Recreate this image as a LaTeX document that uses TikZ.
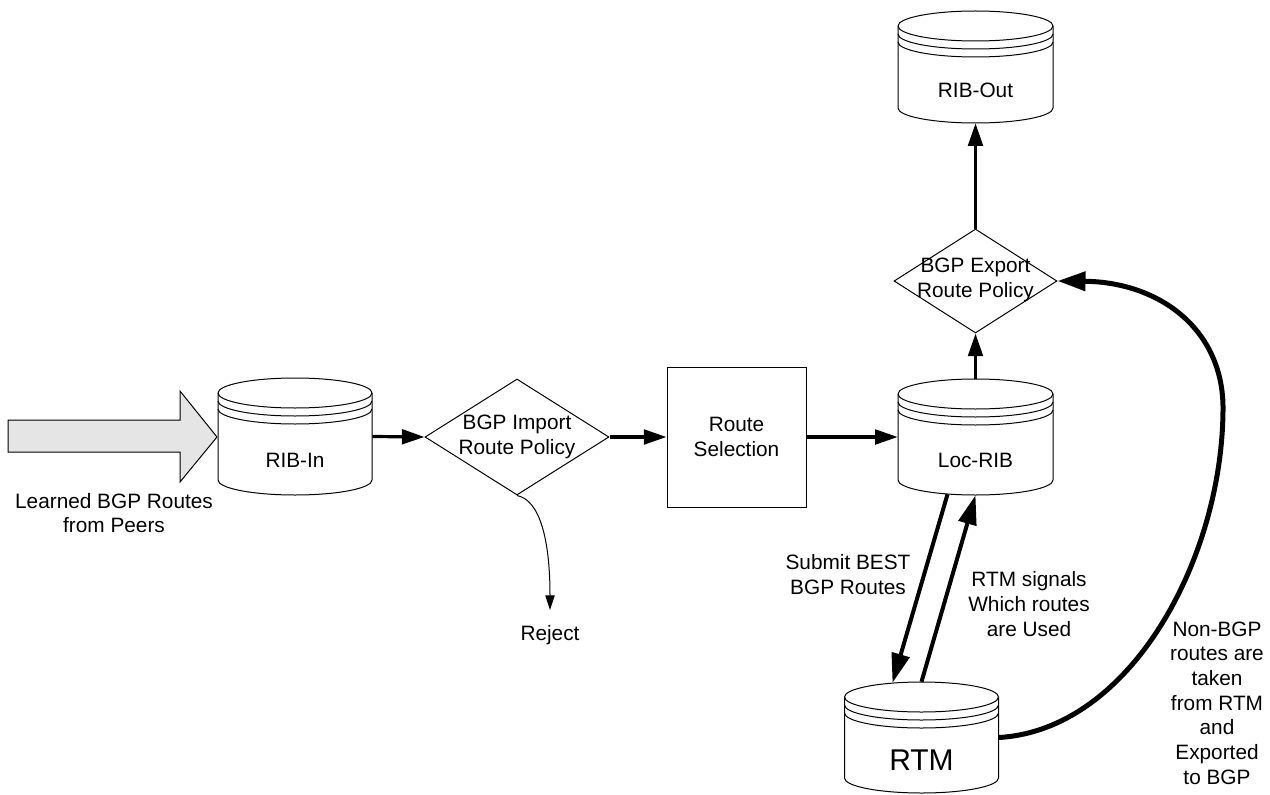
\documentclass[tikz,border=0pt]{standalone}
\usepackage{fontspec}
\setmainfont{Liberation Sans}
\usetikzlibrary{arrows.meta,shapes.geometric,calc}

% #1 name, #2 centre x, #3 top y, #4 bottom y, #5 half width (px)
\newcommand\dbcyl[5]{%
  \path[fill=white,draw=black,line width=0.75pt]
    (#2-#5,#3+15) -- (#2-#5,#4-15)
    arc[start angle=180,end angle=360,x radius=#5*0.75pt,y radius=11.25pt]
    -- (#2+#5,#3+15)
    arc[start angle=0,end angle=180,x radius=#5*0.75pt,y radius=11.25pt] -- cycle;
  \foreach \o in {0,8,16}
    \draw[line width=0.75pt] (#2-#5,#3+15+\o)
      arc[start angle=180,end angle=360,x radius=#5*0.75pt,y radius=11.25pt];
  \node[inner sep=0pt,draw=none,minimum width={2*#5*0.75pt},
        minimum height={(#4-#3)*0.75pt}] (#1) at (#2,{(#3+#4)/2}) {};
}

\tikzset{
  txt/.style={font=\fontsize{15.6}{18.5}\selectfont,align=center,inner sep=0pt},
  thinline/.style={line width=0.75pt},
  policy/.style={diamond,draw,line width=0.75pt,inner sep=0pt,fill=white},
  procbox/.style={rectangle,draw,line width=0.75pt,inner sep=0pt,fill=white},
  flow/.style={line width=2.4pt,-{Triangle[length=17pt,width=11pt]}},
  rtmflow/.style={line width=3pt,-{Triangle[length=22pt,width=13.5pt]}},
  bigcurve/.style={line width=3.75pt,-{Triangle[length=21pt,width=14pt]}},
  rejectflow/.style={line width=0.75pt,-{Triangle[length=11pt,width=7pt]}},
}

\begin{document}
\begin{tikzpicture}[x=0.75pt,y=-0.75pt]
\useasboundingbox (0,0) rectangle (1270,795);

% cylinders
\dbcyl{ribin}{295}{378}{495}{77}
\dbcyl{locrib}{975.5}{379}{495}{77.5}
\dbcyl{ribout}{975.5}{11}{123}{77.5}
\dbcyl{rtm}{921.5}{682}{793}{77}

\node[txt] (ribinlbl) at (295,460) {RIB-In};
\node[txt] (locriblbl) at (975.5,460) {Loc-RIB};
\node[txt] (riboutlbl) at (975.5,90) {RIB-Out};
\node[txt,font=\fontsize{22.5}{26}\selectfont] (rtmlbl) at (921.5,760) {RTM};

% big input arrow
\draw[thinline,fill=black!10]
  (8,420) -- (180,420) -- (180,391) -- (217,437) -- (180,482) -- (180,452) -- (8,452) -- cycle;
\node[txt] (learned) at (114,513) {Learned BGP Routes\\from Peers};

% policies and selection
\node[policy,minimum width=138pt,minimum height=87pt] (imp) at (517,437) {};
\node[txt] (imptxt) at (517,437) {BGP Import\\Route Policy};
\node[procbox,minimum width=104.25pt,minimum height=105pt] (sel) at (736.5,437) {};
\node[txt] (seltxt) at (736.5,437) {Route\\Selection};
\node[policy,minimum width=122.25pt,minimum height=78pt] (exp) at (975.5,281) {};
\node[txt] (exptxt) at (975.5,280) {BGP Export\\Route Policy};

% reject
\coordinate (rejend) at (550,610);
\node[txt] (reject) at (550,635) {Reject};
\draw[rejectflow] (imp.south) .. controls (540,500) and (550,540) .. (rejend);

% main flow
\draw[flow] (ribin.east) -- (imp.west);
\draw[flow] (imp.east) -- (sel.west);
\draw[flow] (sel.east) -- (locrib.west);
\draw[flow] (locrib.north) -- (exp.south);
\draw[flow] (exp.north) -- (ribout.south);

% Loc-RIB <-> RTM
\draw[rtmflow] ($(locrib.south)+(-28,-1)$) -- ($(rtm.north)+(-29,1)$);
\draw[rtmflow] (rtm.north) -- (locrib.south);
\node[txt] (submit) at (848,574.5) {Submit BEST\\BGP Routes};
\node[txt] (signals) at (1029,604) {RTM signals\\Which routes\\are Used};

% RTM -> export
\draw[bigcurve] (rtm.east) .. controls (1130,730) and (1222,560) .. (1223,410)
  .. controls (1224,330) and (1160,282) .. (exp.east);
\node[txt] (nonbgp) at (1217,703) {Non-BGP\\routes are\\taken\\from RTM\\and\\Exported\\to BGP};
\end{tikzpicture}
\end{document}
